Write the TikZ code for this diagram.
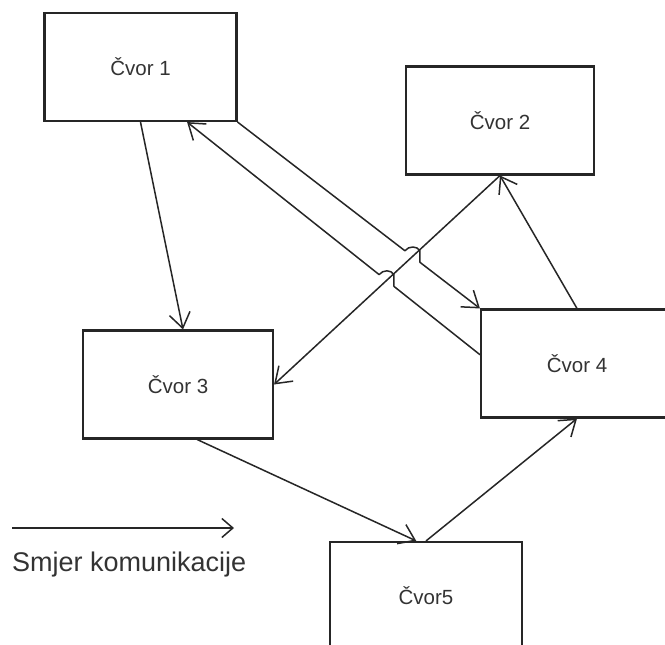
\documentclass[tikz,border=0pt]{standalone}
\usepackage{fontspec}
\setmainfont{Liberation Sans}
\usetikzlibrary{arrows.meta,calc,intersections}
\definecolor{ink}{HTML}{262626}
\definecolor{txt}{HTML}{333333}
\begin{document}
\begin{tikzpicture}[x=1pt,y=-1pt,
  nodebox/.style={draw=ink, line width=2.1pt, fill=white, inner sep=0pt,
    minimum width=192pt, minimum height=108pt, text=txt,
    font=\fontsize{20.5}{24}\selectfont},
  link/.style={draw=ink, line width=1.5pt, line join=round,
    -{Straight Barb[length=15pt,width=21pt,line width=1.5pt]}},
  plain/.style={draw=ink, line width=1.5pt, line join=round}]
\useasboundingbox (0,0) rectangle (665,645);
\fill[white] (0,0) rectangle (665,645);
\clip (0,0) rectangle (665,645);

% nodes
\node[nodebox] (c1) at (140.5,67) {Čvor 1};
\node[nodebox, minimum width=188pt] (c2) at (500,120.5) {Čvor 2};
\node[nodebox, minimum width=190pt] (c3) at (178,384.5) {Čvor 3};
\node[nodebox] (c4) at (577,363.5) {Čvor 4};
\node[nodebox] (c5) at (426,596) {Čvor5};

% attachment points on the box edges
\coordinate (bS) at ($(c4.north west)!0.42!(c4.south west)$);
\coordinate (bE) at ($(c1.south west)!0.74!(c1.south east)$);
\coordinate (e3) at ($(c3.north west)!0.526!(c3.north east)$);
\coordinate (f3) at ($(c3.south west)!0.6!(c3.south east)$);
\coordinate (f5) at ($(c5.north west)!0.45!(c5.north east)$);

% crossings with the link from node 2 to node 3
\path[name path=pA] (c1.south east) -- (c4.north west);
\path[name path=pB] (bS) -- (bE);
\path[name path=pC] (c2.south) -- (c3.east);
\path[name intersections={of=pA and pC, by=xA}];
\path[name intersections={of=pB and pC, by=xB}];
\coordinate (a1) at ($(xA)!9.5pt!(c1.south east)$);
\coordinate (a2) at ($(xA)!9.5pt!(c4.north west)$);
\coordinate (b1) at ($(xB)!9.5pt!(bE)$);
\coordinate (b2) at ($(xB)!9.5pt!(bS)$);

% links
\draw[link] (c1.south) -- (e3);
\draw[link] (c1.south east) -- (a1)
  .. controls ($(a1)+(4,-5)$) and ($(a1 -| a2)+(-3,-5)$) .. (a1 -| a2)
  -- (a2) -- (c4.north west);
\draw[link] (bS) -- (b2) -- (b2 |- b1)
  .. controls ($(b2 |- b1)+(-3,-5)$) and ($(b1)+(4,-5)$) .. (b1)
  -- (bE);
\draw[link] (c2.south) -- (c3.east);
\draw[link] (c4.north) -- (c2.south);
\draw[link] (f3) -- (f5);
\draw[link] (c5.north) -- (c4.south);

% legend
\coordinate (lg1) at (12,528);
\coordinate (lg2) at (234,528);
\draw[plain, -{Straight Barb[length=11pt,width=19pt,line width=1.5pt]}] (lg1) -- (lg2);
\node[anchor=base west, inner sep=0pt, text=txt, font=\fontsize{27}{30}\selectfont]
  (lgt) at (12,571) {Smjer komunikacije};
\end{tikzpicture}
\end{document}
